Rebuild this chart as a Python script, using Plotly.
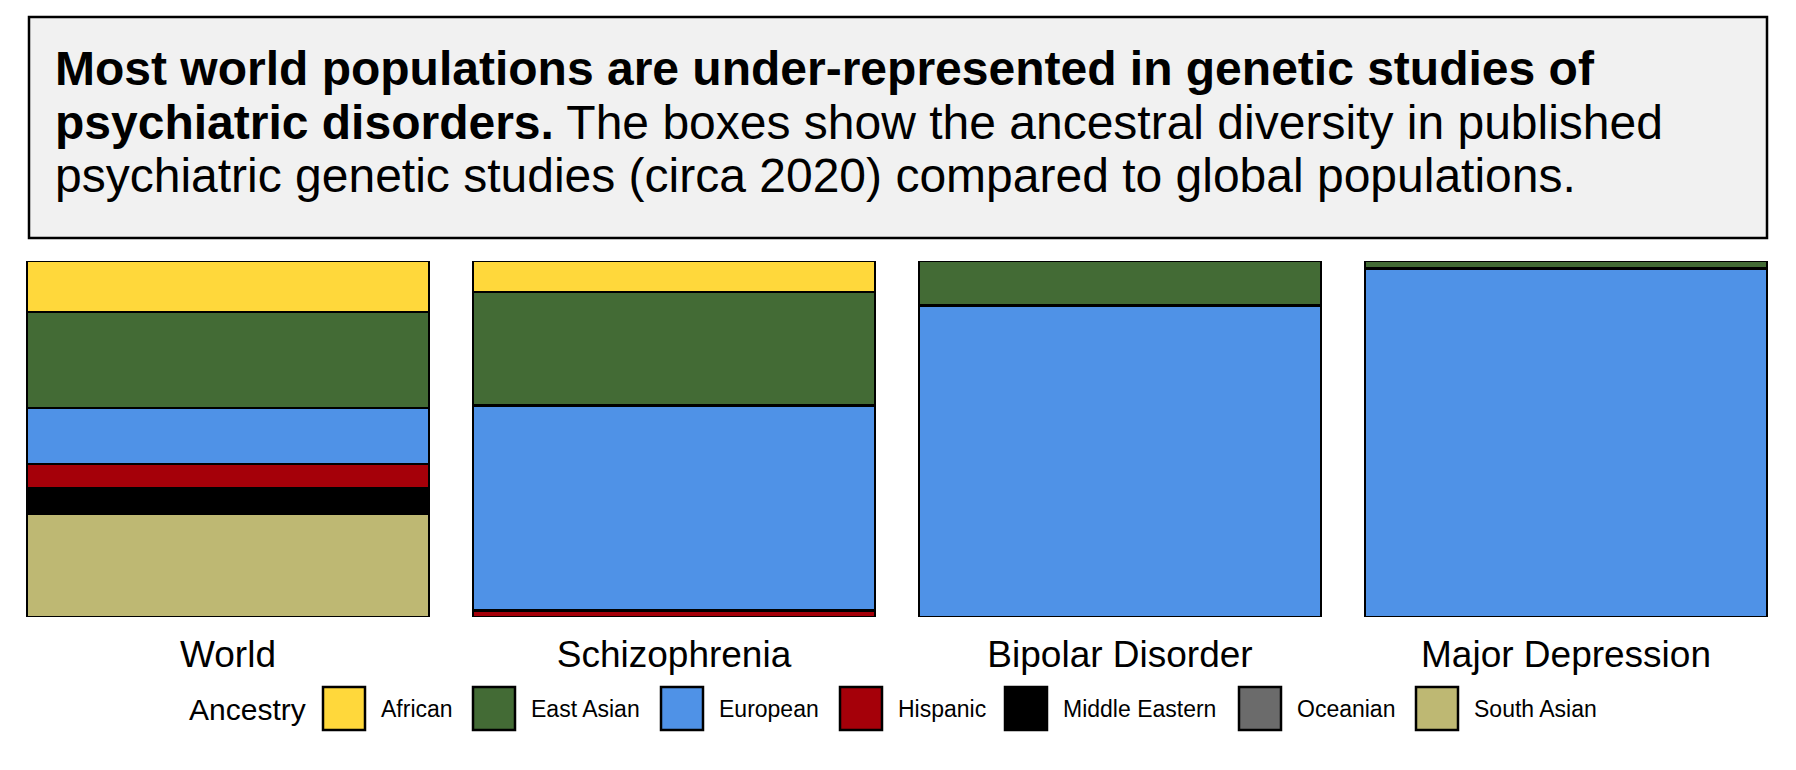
import plotly.graph_objects as go

# ---------------- data ----------------
groups = ["World", "Schizophrenia", "Bipolar Disorder", "Major Depression"]
ancestries = ["African", "East Asian", "European", "Hispanic",
              "Middle Eastern", "Oceanian", "South Asian"]
# percent share of each ancestry per group
african        = [14.3, 8.7, None, None]
east_asian     = [27.0, 32.0, 12.6, 2.0]
european       = [15.7, 57.5, 87.4, 98.0]
hispanic       = [7.0, 1.8, None, None]
middle_eastern = [7.0, None, None, None]
oceanian       = [None, None, None, None]
south_asian    = [29.0, None, None, None]
values = [african, east_asian, european, hispanic, middle_eastern, oceanian, south_asian]
colors = ["#FFD83B", "#436B35", "#4F92E7", "#A50009", "#000000", "#6B6B6B", "#BEB873"]

title_line1 = "<b>Most world populations are under-represented in genetic studies of</b>"
title_line2 = "<b>psychiatric disorders.</b> The boxes show the ancestral diversity in published"
title_line3 = "psychiatric genetic studies (circa 2020) compared to global populations."
legend_title = "Ancestry"

FONT = "Liberation Sans, Arial, Helvetica, sans-serif"
W, H = 1796, 770

def px(x):
    return x / W

def py(y):
    return (H - y) / H

fig = go.Figure()
for name, vals, col in zip(ancestries, values, colors):
    fig.add_trace(go.Bar(
        x=groups, y=vals, name=name,
        marker=dict(color=col, line=dict(color="black", width=2.8)),
        showlegend=False,
        hoverinfo="x+y+name",
    ))

shapes = [
    dict(type="rect", xref="paper", yref="paper",
         x0=px(21), x1=px(1759), y0=py(230), y1=py(9),
         fillcolor="#F1F1F1", line=dict(color="black", width=2.5), layer="below"),
]
annotations = []
for txt, yc in [(title_line1, 61), (title_line2, 114), (title_line3, 168)]:
    annotations.append(dict(
        text=txt, xref="paper", yref="paper", x=px(45), y=py(yc),
        xanchor="left", yanchor="middle", showarrow=False,
        font=dict(family=FONT, size=48, color="black"),
    ))

# custom legend (large square swatches)
annotations.append(dict(
    text=legend_title, xref="paper", yref="paper", x=px(179), y=py(701),
    xanchor="left", yanchor="middle", showarrow=False,
    font=dict(family=FONT, size=30, color="black"),
))
swatch_left = [315, 465, 653, 832, 997, 1231, 1408]
for name, col, x0 in zip(ancestries, colors, swatch_left):
    shapes.append(dict(
        type="rect", xref="paper", yref="paper",
        x0=px(x0), x1=px(x0 + 42), y0=py(722), y1=py(679),
        fillcolor=col, line=dict(color="black", width=2.5),
    ))
    annotations.append(dict(
        text=name, xref="paper", yref="paper", x=px(x0 + 56), y=py(701),
        xanchor="left", yanchor="middle", showarrow=False,
        font=dict(family=FONT, size=23, color="black"),
    ))

slot = 446.0
fig.update_layout(
    width=W, height=H,
    margin=dict(l=0, r=0, t=0, b=0),
    paper_bgcolor="white", plot_bgcolor="white",
    barmode="stack", bargap=44 / slot,
    font=dict(family=FONT, color="black"),
    shapes=shapes, annotations=annotations,
    xaxis=dict(domain=[0, 1], range=[-220 / slot, -220 / slot + W / slot],
               showgrid=False, zeroline=False,
               showline=False, ticks="", tickfont=dict(family=FONT, size=37, color="black"),
               ticklabelstandoff=12),
    yaxis=dict(domain=[py(609), py(253)], range=[100, 0], showgrid=False,
               zeroline=False, showline=False, showticklabels=False, ticks=""),
)

fig.write_html("out.html")
